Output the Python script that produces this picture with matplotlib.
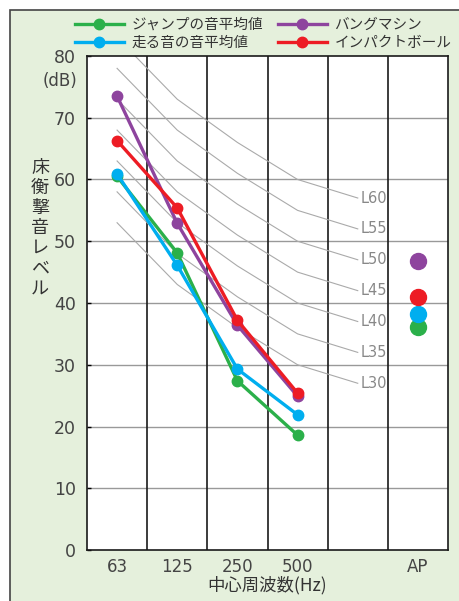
import matplotlib.pyplot as plt
from matplotlib.patches import Rectangle
import numpy as np

plt.rcParams['font.family'] = ['Noto Sans CJK JP', 'DejaVu Sans']

# data
bands = ['63', '125', '250', '500']
xlabels = ['63', '125', '250', '500', '', 'AP']
series_names = ['ジャンプの音平均値', '走る音の音平均値', 'バングマシン', 'インパクトボール']
jump = [60.5, 48.1, 27.4, 18.6]
run = [60.9, 46.1, 29.3, 21.9]
bang = [73.5, 52.9, 36.4, 24.9]
impact = [66.3, 55.4, 37.2, 25.4]
ap_values = [36.1, 38.2, 46.8, 40.9]
colors = ['#2bb04a', '#00aeef', '#8e449e', '#ed1c24']

# L-number reference curves (63,125,250,500,1k offsets from L)
l_numbers = [30, 35, 40, 45, 50, 55, 60]
l_offsets = [23, 13, 6, 0, -3]

fig = plt.figure(figsize=(4.59, 6.01), dpi=100)
fig.patches.append(Rectangle((10/459, -0.01), 1.0, 1 - 10/601 + 0.01, transform=fig.transFigure,
                             facecolor='#e5f0dc', edgecolor='#444444', linewidth=1.2, zorder=-5))
ax = fig.add_axes([87/459, 1 - 550/601, (448-87)/459, (550-56)/601])
ax.set_zorder(2)
ax.set_facecolor('white')
ax.set_xlim(0, 6)
ax.set_ylim(0, 80)

for y in range(10, 80, 10):
    ax.axhline(y, color='#999999', lw=1.0, zorder=1)
for x in range(1, 6):
    ax.axvline(x, color='#1a1a1a', lw=1.2, zorder=1)

lx = [0.5, 1.5, 2.5, 3.5, 4.5]
for L in l_numbers:
    ly = [L + o for o in l_offsets]
    ax.plot(lx, ly, color='#aaaaaa', lw=0.8, zorder=2)
    ax.text(4.55, ly[-1], 'L%d' % L, color='#888888', fontsize=10.5, va='center', ha='left',
            family=['Liberation Sans Narrow', 'DejaVu Sans'])

xs = [0.5, 1.5, 2.5, 3.5]
handles = []
for vals, c, name in zip([jump, run, bang, impact], colors, series_names):
    h, = ax.plot(xs, vals, color=c, lw=2.4, marker='o', ms=7.5, label=name, zorder=3)
    handles.append(h)
for v, c in zip(ap_values, colors):
    ax.plot(5.5, v, 'o', color=c, ms=11.5, zorder=3, clip_on=False)

ax.set_xticks([0.5, 1.5, 2.5, 3.5, 4.5, 5.5])
ax.set_xticklabels(xlabels)
ax.set_yticks(range(0, 81, 10))
ax.tick_params(axis='x', length=0, pad=6, labelsize=12, labelcolor='#444444')
ax.tick_params(axis='y', direction='in', length=3, width=1, pad=8, labelsize=12.5, labelcolor='#444444')
for lab in ax.get_xticklabels() + ax.get_yticklabels():
    lab.set_family(['Liberation Sans Narrow', 'DejaVu Sans'])
for s in ax.spines.values():
    s.set_color('#1a1a1a')
    s.set_linewidth(1.2)

ax.set_xlabel('中心周波数(Hz)', fontsize=12.5, color='#333333', labelpad=0)
fig.text(60/459, 1 - 81/601, '(dB)', fontsize=12, color='#444444', ha='center', va='center',
         family=['Liberation Sans Narrow', 'DejaVu Sans'])
fig.text(40/459, 1 - 228/601, '\n'.join('床衡撃音レベル'), fontsize=13, color='#333333',
         ha='center', va='center', linespacing=1.15)

fig.legend(handles=handles, loc='center', bbox_to_anchor=(263/459, 1 - 34/601), ncol=2, frameon=False,
           fontsize=10.5, handlelength=3.4, columnspacing=1.0, labelspacing=0.3, handletextpad=0.5,
           labelcolor='#333333')

fig.savefig('out.png', dpi=100)
